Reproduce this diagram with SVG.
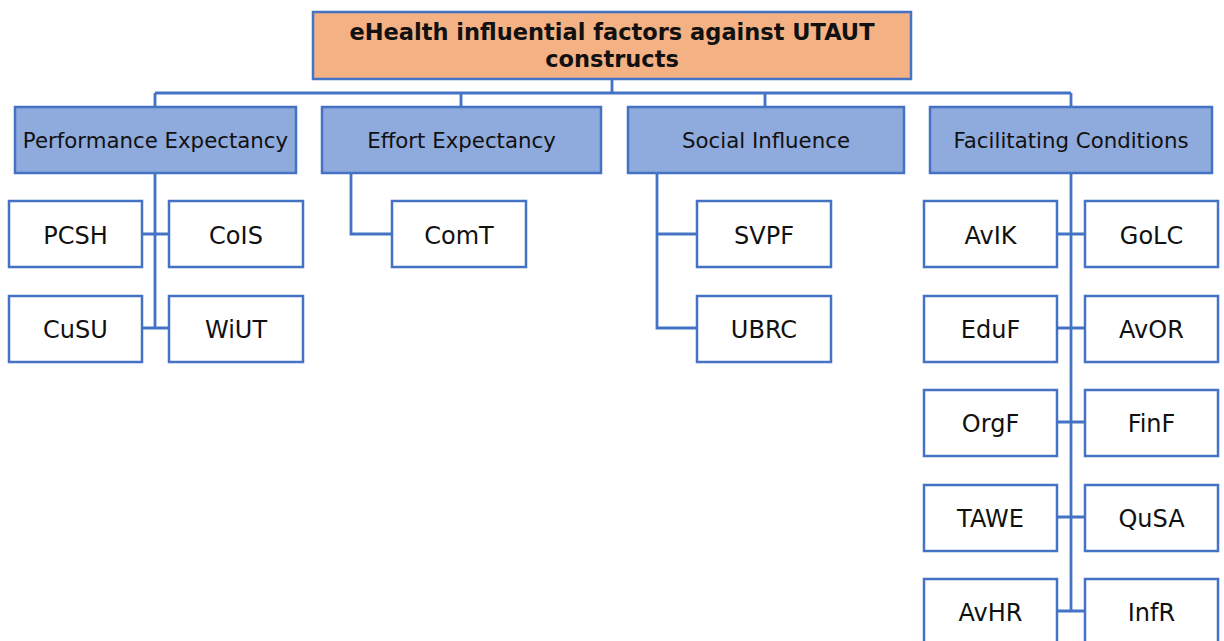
<svg xmlns="http://www.w3.org/2000/svg" width="1224" height="641" viewBox="0 0 1224 641">
<style>
.box{stroke:#4472C4;stroke-width:2.5;}
.root{fill:#F4B183;}
.l2{fill:#8FAADC;}
.leaf{fill:#FFFFFF;}
.t{font-family:"DejaVu Sans","Liberation Sans",sans-serif;fill:#111;text-anchor:middle;}
.tt{font-size:22.5px;font-weight:bold;}
.t2{font-size:21.3px;}
.t3{font-size:24px;}
.c{fill:none;stroke:#4472C4;stroke-width:2.8;}
</style>
<rect width="1224" height="641" fill="#FFFFFF"/>
<g id="connectors">
<path class="c" d="M612 79V93M155 93H1071M155 93V107M461 93V107M765 93V107M1071 93V107"/>
<path class="c" d="M155 173V328M142 234H169M142 328H169"/>
<path class="c" d="M351 173V234H392"/>
<path class="c" d="M657 173V328H697M657 234H697"/>
<path class="c" d="M1071 173V611M1057 234H1085M1057 328H1085M1057 422H1085M1057 517H1085M1057 611H1085"/>
</g>
<g id="root"><rect class="box root" x="313" y="12" width="598" height="67"/><text class="t tt" x="612" y="40">eHealth influential factors against UTAUT</text><text class="t tt" x="612" y="67">constructs</text></g>
<g id="pe"><rect class="box l2" x="15" y="107" width="281" height="66"/><text class="t t2" x="155.5" y="148">Performance Expectancy</text></g>
<g id="ee"><rect class="box l2" x="322" y="107" width="279" height="66"/><text class="t t2" x="461.5" y="148">Effort Expectancy</text></g>
<g id="si"><rect class="box l2" x="628" y="107" width="276" height="66"/><text class="t t2" x="766" y="148">Social Influence</text></g>
<g id="fc"><rect class="box l2" x="930" y="107" width="282" height="66"/><text class="t t2" x="1071" y="148">Facilitating Conditions</text></g>
<g id="pcsh"><rect class="box leaf" x="9" y="201" width="133" height="66"/><text class="t t3" x="75.5" y="244">PCSH</text></g>
<g id="cois"><rect class="box leaf" x="169" y="201" width="134" height="66"/><text class="t t3" x="236" y="244">CoIS</text></g>
<g id="cusu"><rect class="box leaf" x="9" y="296" width="133" height="66"/><text class="t t3" x="75.5" y="338">CuSU</text></g>
<g id="wiut"><rect class="box leaf" x="169" y="296" width="134" height="66"/><text class="t t3" x="236" y="338">WiUT</text></g>
<g id="comt"><rect class="box leaf" x="392" y="201" width="134" height="66"/><text class="t t3" x="459" y="244">ComT</text></g>
<g id="svpf"><rect class="box leaf" x="697" y="201" width="134" height="66"/><text class="t t3" x="764" y="244">SVPF</text></g>
<g id="ubrc"><rect class="box leaf" x="697" y="296" width="134" height="66"/><text class="t t3" x="764" y="338">UBRC</text></g>
<g id="avik"><rect class="box leaf" x="924" y="201" width="133" height="66"/><text class="t t3" x="990.5" y="244">AvIK</text></g>
<g id="golc"><rect class="box leaf" x="1085" y="201" width="133" height="66"/><text class="t t3" x="1151.5" y="244">GoLC</text></g>
<g id="eduf"><rect class="box leaf" x="924" y="296" width="133" height="66"/><text class="t t3" x="990.5" y="338">EduF</text></g>
<g id="avor"><rect class="box leaf" x="1085" y="296" width="133" height="66"/><text class="t t3" x="1151.5" y="338">AvOR</text></g>
<g id="orgf"><rect class="box leaf" x="924" y="390" width="133" height="66"/><text class="t t3" x="990.5" y="432">OrgF</text></g>
<g id="finf"><rect class="box leaf" x="1085" y="390" width="133" height="66"/><text class="t t3" x="1151.5" y="432">FinF</text></g>
<g id="tawe"><rect class="box leaf" x="924" y="485" width="133" height="66"/><text class="t t3" x="990.5" y="527">TAWE</text></g>
<g id="qusa"><rect class="box leaf" x="1085" y="485" width="133" height="66"/><text class="t t3" x="1151.5" y="527">QuSA</text></g>
<g id="avhr"><rect class="box leaf" x="924" y="579" width="133" height="66"/><text class="t t3" x="990.5" y="621">AvHR</text></g>
<g id="infr"><rect class="box leaf" x="1085" y="579" width="133" height="66"/><text class="t t3" x="1151.5" y="621">InfR</text></g>
</svg>
